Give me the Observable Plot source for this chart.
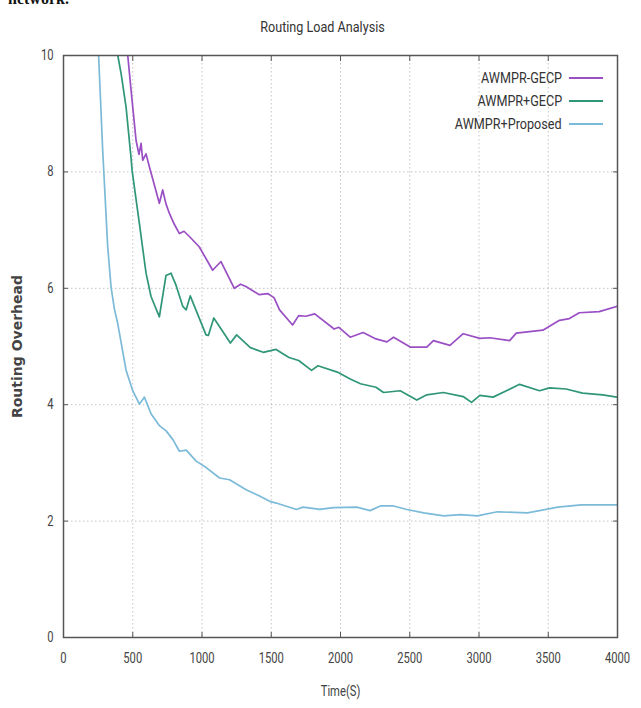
<!DOCTYPE html>
<html><head><meta charset="utf-8">
<script src="https://cdn.jsdelivr.net/npm/d3@7"></script>
<script src="https://cdn.jsdelivr.net/npm/@observablehq/plot@0.6"></script>
<style>
body{margin:0;background:#fff;}
#wrap{position:relative;width:641px;height:708px;overflow:hidden;font-family:Roboto,"Liberation Sans",sans-serif;color:#333;}
#cut{position:absolute;left:8px;top:-10px;font:bold 16px "Liberation Serif","DejaVu Serif",serif;color:#111;}
#title{position:absolute;left:2px;width:641px;top:18px;text-align:center;font-size:15px;color:#333;transform:scaleX(0.84);transform-origin:center;}
#legend{position:absolute;right:38px;top:66px;}
.row{display:flex;align-items:center;justify-content:flex-end;height:23px;font-size:14px;color:#333;}
.lab{display:inline-block;transform:scaleX(0.9);transform-origin:right center;}
.sw{display:inline-block;width:34px;height:2px;margin-left:7px;}
#chart{position:absolute;left:0;top:0;}
g[aria-label="y-axis label"] text{font-family:"DejaVu Sans",sans-serif;font-weight:bold;font-size:14px;fill:#444;}
g[aria-label="x-axis label"] text{font-size:14px;}
</style></head>
<body>
<div id="wrap">
  <div id="cut">network.</div>
  <div id="title">Routing Load Analysis</div>
  <div id="chart"></div>
  <div id="legend"></div>
</div>
<script>
const seriesNames = ["AWMPR-GECP", "AWMPR+GECP", "AWMPR+Proposed"];
const seriesColors = ["#9a4fc4", "#2f9678", "#7cbad9"];
const xTicks = [0, 500, 1000, 1500, 2000, 2500, 3000, 3500, 4000];
const yTicks = [0, 2, 4, 6, 8, 10];

const gecpMinusT = [420,464,488,524,545,560,572,596,620,692,716,740,764,800,837,870,909,981,1077,1137,1233,1279,1317,1414,1474,1520,1560,1654,1698,1750,1814,1954,1988,2070,2163,2256,2335,2383,2503,2623,2671,2790,2886,3006,3078,3221,3269,3461,3581,3653,3724,3868,4000];
const gecpMinusV = [11.2,10.0,9.40,8.54,8.30,8.49,8.20,8.31,8.09,7.46,7.69,7.45,7.29,7.10,6.94,6.98,6.89,6.71,6.31,6.46,6.00,6.07,6.03,5.89,5.91,5.84,5.63,5.37,5.53,5.52,5.56,5.30,5.33,5.16,5.24,5.13,5.08,5.16,4.99,4.99,5.10,5.02,5.22,5.14,5.15,5.10,5.23,5.28,5.45,5.48,5.58,5.60,5.69];

const gecpPlusT = [340,392,416,452,488,495,548,596,632,692,740,776,813,861,886,915,1029,1046,1085,1205,1250,1349,1442,1535,1628,1698,1791,1837,1977,2070,2144,2256,2311,2431,2551,2623,2742,2886,2946,3006,3102,3198,3293,3437,3509,3629,3748,3892,4000];
const gecpPlusV = [11.3,10.0,9.69,9.11,8.23,8.03,7.11,6.26,5.86,5.51,6.22,6.26,6.05,5.69,5.63,5.87,5.20,5.19,5.49,5.06,5.20,4.98,4.90,4.95,4.81,4.76,4.59,4.67,4.56,4.44,4.36,4.30,4.21,4.24,4.08,4.17,4.21,4.14,4.04,4.16,4.13,4.24,4.35,4.24,4.29,4.27,4.20,4.17,4.13];

const proposedT = [215,254,283,319,343,367,392,452,500,548,584,633,693,741,790,837,886,958,1030,1127,1199,1319,1416,1488,1536,1682,1730,1851,1948,2117,2214,2287,2383,2480,2601,2746,2867,2988,3133,3351,3569,3738,3883,4000];
const proposedV = [11.5,9.97,8.37,6.72,6.03,5.65,5.39,4.59,4.24,4.01,4.13,3.84,3.64,3.55,3.40,3.20,3.22,3.03,2.92,2.74,2.71,2.54,2.43,2.34,2.31,2.20,2.24,2.20,2.23,2.24,2.18,2.26,2.26,2.20,2.14,2.09,2.11,2.09,2.16,2.14,2.24,2.28,2.28,2.28];

const seriesT = [gecpMinusT, gecpPlusT, proposedT];
const seriesV = [gecpMinusV, gecpPlusV, proposedV];
const data = seriesNames.flatMap((name, i) => seriesT[i].map((t, j) => ({series: name, t, v: seriesV[i][j]})));

const font = 'Roboto,"Liberation Sans",sans-serif';
const chart = Plot.plot({
  width: 641, height: 708,
  marginLeft: 63, marginRight: 24, marginTop: 55, marginBottom: 71,
  style: {fontFamily: font, fontSize: "14px", color: "#444", background: "transparent"},
  x: {domain: [0, 4000]},
  y: {domain: [0, 10]},
  color: {domain: seriesNames, range: seriesColors},
  marks: [
    Plot.gridX(xTicks, {stroke: "#aaa", strokeOpacity: 0.7, strokeDasharray: "1.5,2.5"}),
    Plot.gridY(yTicks, {stroke: "#aaa", strokeOpacity: 0.7, strokeDasharray: "1.5,2.5"}),
    Plot.line(data, {x: "t", y: "v", z: "series", stroke: "series", strokeWidth: 1.7, clip: true}),
    Plot.axisX(xTicks, {anchor: "bottom", tickSize: 0, tickPadding: 16, tickFormat: d => String(d), label: "Time(S)", labelAnchor: "center", labelArrow: "none", labelOffset: 58}),
    Plot.axisY(yTicks, {anchor: "left", tickSize: 0, tickPadding: 10, tickFormat: d => String(d), label: "Routing Overhead", labelAnchor: "center", labelArrow: "none", labelOffset: 51}),
    Plot.axisX(xTicks, {anchor: "bottom", tickSize: 5, dy: -5, fill: "none", stroke: "#555", label: null}),
    Plot.axisX(xTicks, {anchor: "top", tickSize: 5, dy: 5, fill: "none", stroke: "#555", label: null}),
    Plot.axisY(yTicks, {anchor: "left", tickSize: 5, dx: 5, fill: "none", stroke: "#555", label: null}),
    Plot.axisY(yTicks, {anchor: "right", tickSize: 5, dx: -5, fill: "none", stroke: "#555", label: null}),
    Plot.frame({stroke: "#555", strokeWidth: 1.5})
  ]
});
document.getElementById("chart").appendChild(chart);

// narrow the tick and axis-title glyphs like the reference's condensed font
chart.querySelectorAll('g[aria-label="x-axis tick label"] text, g[aria-label="y-axis tick label"] text, g[aria-label="x-axis label"] text').forEach(t => {
  const len = t.getComputedTextLength();
  if (len > 0) {
    t.setAttribute("textLength", (len * 0.8).toFixed(1));
    t.setAttribute("lengthAdjust", "spacingAndGlyphs");
  }
});

const legend = document.getElementById("legend");
seriesNames.forEach((name, i) => {
  const row = document.createElement("div");
  row.className = "row";
  const label = document.createElement("span");
  label.className = "lab";
  label.textContent = name;
  const sw = document.createElement("span");
  sw.className = "sw";
  sw.style.background = seriesColors[i];
  row.appendChild(label);
  row.appendChild(sw);
  legend.appendChild(row);
});
</script>
</body></html>
